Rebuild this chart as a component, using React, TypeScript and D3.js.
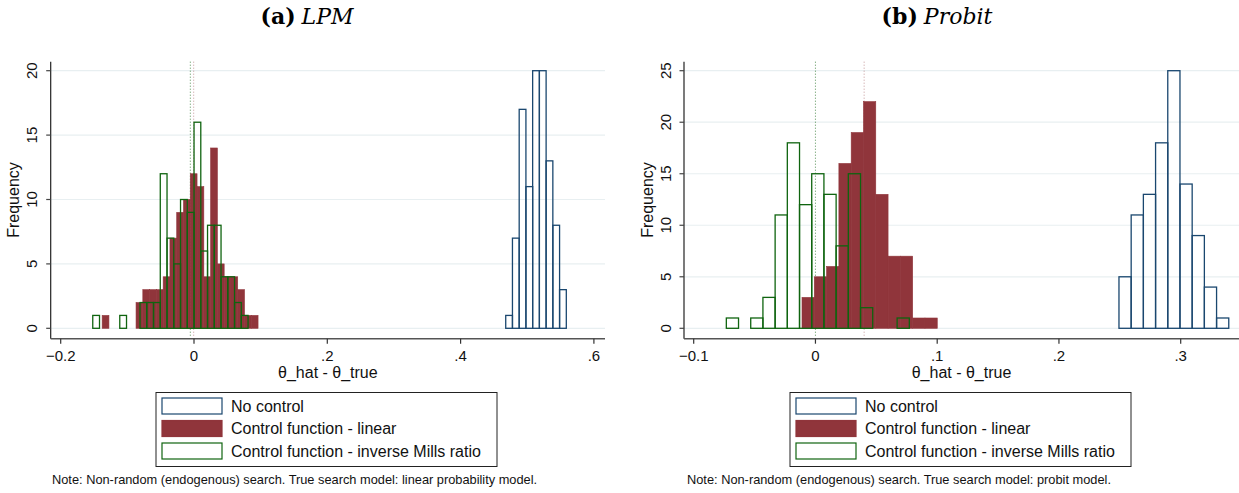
import React from 'react';
import * as d3 from 'd3';

// ---------- (a) LPM ----------
const lpmXTicks = [-0.2, 0, 0.2, 0.4, 0.6];
const lpmYTicks = [0, 5, 10, 15, 20];
const lpmNoControlStart = 0.4677;
const lpmNoControlWidth = 0.0101;
const lpmNoControlCounts = [1, 7, 17, 11, 20, 20, 13, 8, 3];
const lpmLinearStart = -0.1378;
const lpmLinearWidth = 0.01017;
const lpmLinearCounts = [1, 0, 0, 0, 0, 2, 3, 3, 3, 4, 7, 9, 10, 12, 11, 4, 14, 5, 4, 4, 3, 1, 1];
const lpmMillsStart = -0.1519;
const lpmMillsWidth = 0.01013;
const lpmMillsCounts = [1, 0, 0, 0, 1, 0, 0, 2, 2, 2, 12, 7, 5, 10, 9, 16, 6, 8, 8, 4, 4, 2, 1];
const lpmMeanLinear = -0.0005;
const lpmMeanMills = -0.0055;

// ---------- (b) Probit ----------
const probitXTicks = [-0.1, 0, 0.1, 0.2, 0.3];
const probitYTicks = [0, 5, 10, 15, 20, 25];
const probitNoControlStart = 0.2493;
const probitNoControlWidth = 0.01002;
const probitNoControlCounts = [5, 11, 13, 18, 25, 14, 9, 4, 1];
const probitLinearStart = -0.01105;
const probitLinearWidth = 0.0101;
const probitLinearCounts = [3, 5, 6, 16, 19, 22, 13, 7, 7, 1, 1];
const probitMillsStart = -0.0732;
const probitMillsWidth = 0.01002;
const probitMillsCounts = [1, 0, 1, 3, 11, 18, 12, 15, 13, 8, 15, 2, 0, 0, 1];
const probitMeanLinear = 0.04;
const probitMeanMills = 0.0;

const legendLabels = ['No control', 'Control function - linear', 'Control function - inverse Mills ratio'];
const xTitle = 'θ_hat - θ_true';
const yTitle = 'Frequency';
const notes = [
  'Note: Non-random (endogenous) search. True search model: linear probability model.',
  'Note: Non-random (endogenous) search. True search model: probit model.',
];

const NAVY = '#1a476f';
const MAROON = '#90353b';
const GREEN = '#0f640f';
const GRID = '#e8eff1';
const SANS = '"Liberation Sans", Arial, Helvetica, sans-serif';
const SERIF = '"DejaVu Serif", "Liberation Serif", serif';

const fmt = (d: number) => {
  if (d === 0) return '0';
  return d3.format('.1f')(d).replace(/^(-?)0\./, '$1.');
};

type Series = { start: number; width: number; counts: number[] };

function bins(s: Series) {
  return s.counts.map((c, i) => ({ x0: s.start + i * s.width, x1: s.start + (i + 1) * s.width, c }));
}

function Panel(props: {
  axisX: number; axisRight: number; xDomain: [number, number]; xRange: [number, number];
  yMax: number; xTicks: number[]; yTicks: number[];
  noControl: Series; linear: Series; mills: Series; meanLinear: number; meanMills: number;
  titleLetter: string; titleName: string; titleX: number; legendX: number; noteX: number; note: string;
}) {
  const p = props;
  const top = 61.7, axisY = 338.7;
  const x = d3.scaleLinear().domain(p.xDomain).range(p.xRange);
  const y = d3.scaleLinear().domain([0, p.yMax]).range([328.3, 70.7]);
  const rects = (s: Series, stroke: string, fill: string, sw: number) =>
    bins(s).filter(b => b.c > 0).map((b, i) => (
      <rect key={i} x={x(b.x0)} y={y(b.c)} width={x(b.x1) - x(b.x0)} height={y(0) - y(b.c)}
        fill={fill} stroke={stroke} strokeWidth={sw} />
    ));
  const plotMid = (p.axisX + p.axisRight) / 2;
  const legW = 341, legTop = 392.5, legH = 74;
  return (
    <g>
      <text x={p.titleX} y={23.5} textAnchor="middle" fontFamily={SERIF} fontSize={22}>
        <tspan fontWeight="bold">({p.titleLetter})</tspan>
        <tspan fontStyle="italic" dx={6}>{p.titleName}</tspan>
      </text>
      {p.yTicks.map(t => (
        <line key={'g' + t} x1={p.axisX} x2={p.axisRight} y1={y(t)} y2={y(t)} stroke={GRID} strokeWidth={1.2} />
      ))}
      <line x1={x(p.meanMills)} x2={x(p.meanMills)} y1={top} y2={336.5} stroke={GREEN} strokeWidth={1} strokeDasharray="1,2" opacity={0.7} />
      <line x1={x(p.meanLinear)} x2={x(p.meanLinear)} y1={top} y2={336.5} stroke={MAROON} strokeWidth={1} strokeDasharray="1,2" opacity={0.5} />
      {rects(p.noControl, NAVY, 'none', 1.3)}
      {rects(p.linear, MAROON, MAROON, 0.6)}
      {rects(p.mills, GREEN, 'none', 1.3)}
      <line x1={p.axisX} x2={p.axisX} y1={top} y2={axisY} stroke="#222" strokeWidth={1.2} />
      <line x1={p.axisX} x2={p.axisRight} y1={axisY} y2={axisY} stroke="#555" strokeWidth={1.4} />
      {p.yTicks.map(t => (
        <g key={'yt' + t}>
          <line x1={p.axisX - 4.5} x2={p.axisX} y1={y(t)} y2={y(t)} stroke="#444" strokeWidth={1.2} />
          <text transform={`translate(${p.axisX - 13.5},${y(t)}) rotate(-90)`} textAnchor="middle"
            fontFamily={SANS} fontSize={15} fill="#111">{t}</text>
        </g>
      ))}
      {p.xTicks.map(t => (
        <g key={'xt' + t}>
          <line x1={x(t)} x2={x(t)} y1={axisY} y2={axisY + 5} stroke="#333" strokeWidth={1.2} />
          <text x={x(t)} y={361} textAnchor="middle" fontFamily={SANS} fontSize={15} fill="#111">{fmt(t)}</text>
        </g>
      ))}
      <text transform={`translate(${p.axisX - 31.5},${200}) rotate(-90)`} textAnchor="middle"
        fontFamily={SANS} fontSize={16} fill="#111">{yTitle}</text>
      <text x={plotMid} y={378} textAnchor="middle" fontFamily={SANS} fontSize={16} fill="#111">{xTitle}</text>
      <rect x={p.legendX} y={legTop} width={legW} height={legH} fill="white" stroke="#222" strokeWidth={1} />
      {legendLabels.map((lab, i) => {
        const cy = 406 + i * 22.5;
        const stroke = i === 0 ? NAVY : i === 1 ? MAROON : GREEN;
        const fill = i === 1 ? MAROON : 'white';
        return (
          <g key={lab}>
            <rect x={p.legendX + 6} y={cy - 8} width={60} height={16} fill={fill} stroke={stroke} strokeWidth={1.2} />
            <text x={p.legendX + 75} y={cy + 5.5} fontFamily={SANS} fontSize={16} fill="#111">{lab}</text>
          </g>
        );
      })}
      <text x={p.noteX} y={483.5} fontFamily={SANS} fontSize={12.8} fill="#111">{p.note}</text>
    </g>
  );
}

export default function App() {
  return (
    <svg width={1239} height={493} style={{ position: 'absolute', left: 0, top: 0, background: 'white' }}>
      <rect width={1239} height={493} fill="white" />
      <Panel axisX={50.7} axisRight={605} xDomain={[-0.2, 0.6]} xRange={[60.7, 593.9]} yMax={20}
        xTicks={lpmXTicks} yTicks={lpmYTicks}
        noControl={{ start: lpmNoControlStart, width: lpmNoControlWidth, counts: lpmNoControlCounts }}
        linear={{ start: lpmLinearStart, width: lpmLinearWidth, counts: lpmLinearCounts }}
        mills={{ start: lpmMillsStart, width: lpmMillsWidth, counts: lpmMillsCounts }}
        meanLinear={lpmMeanLinear} meanMills={lpmMeanMills}
        titleLetter="a" titleName="LPM" titleX={307} legendX={156} noteX={52} note={notes[0]} />
      <Panel axisX={684} axisRight={1239} xDomain={[-0.1, 0.3]} xRange={[693.7, 1180.7]} yMax={25}
        xTicks={probitXTicks} yTicks={probitYTicks}
        noControl={{ start: probitNoControlStart, width: probitNoControlWidth, counts: probitNoControlCounts }}
        linear={{ start: probitLinearStart, width: probitLinearWidth, counts: probitLinearCounts }}
        mills={{ start: probitMillsStart, width: probitMillsWidth, counts: probitMillsCounts }}
        meanLinear={probitMeanLinear} meanMills={probitMeanMills}
        titleLetter="b" titleName="Probit" titleX={937} legendX={790} noteX={687} note={notes[1]} />
    </svg>
  );
}
